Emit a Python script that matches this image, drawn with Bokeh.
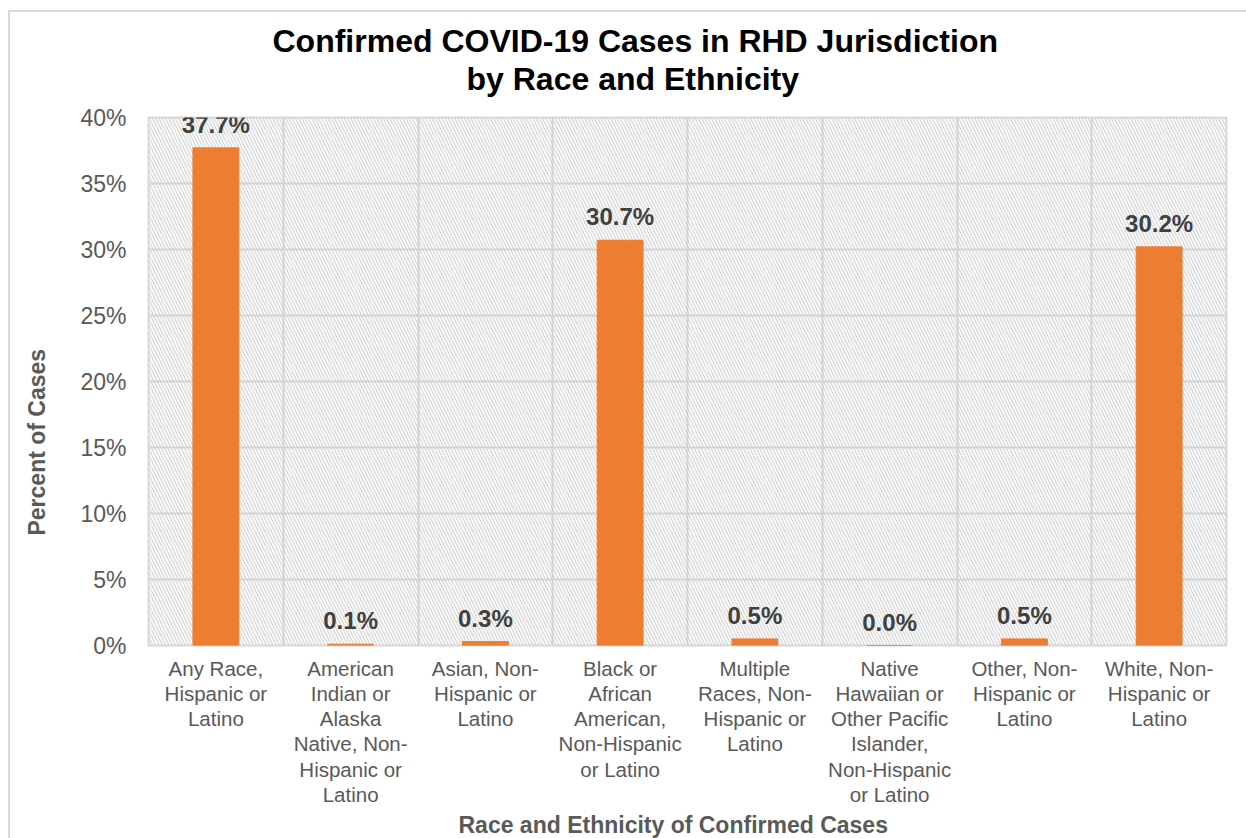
from bokeh.plotting import figure
from bokeh.models import FixedTicker, BoxAnnotation, ColumnDataSource, Range1d, Title
from bokeh.core.properties import value
from bokeh.embed import file_html
from bokeh.resources import INLINE

categories = [
    "Any Race,\nHispanic or\nLatino",
    "American\nIndian or\nAlaska\nNative, Non-\nHispanic or\nLatino",
    "Asian, Non-\nHispanic or\nLatino",
    "Black or\nAfrican\nAmerican,\nNon-Hispanic\nor Latino",
    "Multiple\nRaces, Non-\nHispanic or\nLatino",
    "Native\nHawaiian or\nOther Pacific\nIslander,\nNon-Hispanic\nor Latino",
    "Other, Non-\nHispanic or\nLatino",
    "White, Non-\nHispanic or\nLatino",
]
percent = [37.7, 0.1, 0.3, 30.7, 0.5, 0.0, 0.5, 30.2]
y_ticks = [0, 5, 10, 15, 20, 25, 30, 35, 40]
title_lines = ["Confirmed COVID-19 Cases in RHD Jurisdiction", "by Race and Ethnicity"]
x_title = "Race and Ethnicity of Confirmed Cases"
y_title = "Percent of Cases"

FONT = "Liberation Sans"
NBSP = "\u00a0"
xs = list(range(len(categories)))
labels = [f"{v:.1f}%" for v in percent]
src = ColumnDataSource(dict(x=xs, top=percent, label=labels))

p = figure(width=1246, height=838, output_backend="svg", toolbar_location=None,
           x_range=Range1d(-0.5, len(categories) - 0.5), y_range=Range1d(0, 40),
           min_border_left=148, min_border_right=20, min_border_top=117, min_border_bottom=193)
p.title = None
p.border_fill_alpha = 0
p.styles = {
    "background": "linear-gradient(#d9d9d9,#d9d9d9) 8px 10px / 2px 100% no-repeat, "
                  "linear-gradient(#d9d9d9,#d9d9d9) 8px 10px / 100% 2px no-repeat"
}

# chart title: spacer nearest the plot, then line 2, then line 1
p.add_layout(Title(text=NBSP, text_font=FONT, text_font_size="17px", standoff=0), "above")
p.add_layout(Title(text=title_lines[1], text_font=FONT, text_font_size="32px", text_font_style="bold",
                   text_color="black", align="left", offset=318, standoff=0), "above")
p.add_layout(Title(text=title_lines[0], text_font=FONT, text_font_size="32px", text_font_style="bold",
                   text_color="black", align="left", offset=124, standoff=0,
                   text_line_height=0.9), "above")

p.background_fill_color = "white"
p.add_layout(BoxAnnotation(fill_alpha=0, line_alpha=0, hatch_pattern="\\", hatch_color="#c8c8c8",
                           hatch_scale=6.5, hatch_weight=1, level="underlay"))

p.vbar(x="x", top="top", width=0.34, bottom=0, source=src, color="#ED7D31")
p.text(x="x", y="top", text="label", source=src, text_align="center", text_baseline="bottom",
       y_offset=-10, text_font=value(FONT), text_font_size="24px", text_font_style="bold",
       text_color="#404040")

p.outline_line_color = "#d9d9d9"
p.outline_line_width = 2

p.xgrid.ticker = FixedTicker(ticks=[i - 0.5 for i in range(len(categories) + 1)])
p.xgrid.grid_line_color = "#d9d9d9"
p.xgrid.grid_line_width = 2
p.ygrid.grid_line_color = "#d9d9d9"
p.ygrid.grid_line_width = 2

p.yaxis.ticker = FixedTicker(ticks=y_ticks)
p.yaxis.major_label_overrides = {t: f"{t}%" for t in y_ticks}
p.xaxis.ticker = FixedTicker(ticks=xs)
p.xaxis.major_label_overrides = {i: c for i, c in enumerate(categories)}

for ax in (p.xaxis[0], p.yaxis[0]):
    ax.axis_line_color = None
    ax.major_tick_line_color = None
    ax.minor_tick_line_color = None
    ax.major_label_text_font = FONT
    ax.major_label_text_color = "#595959"

p.yaxis.major_label_text_font_size = "23px"
p.yaxis.major_label_standoff = 16
p.xaxis.major_label_text_font_size = "20.5px"
p.xaxis.major_label_text_line_height = 1.1
p.xaxis.major_label_standoff = 5

# y axis title, padded with non-breaking spaces so it sits lower, as in the original
p.yaxis.axis_label = y_title + NBSP * 19
p.yaxis.axis_label_text_font = FONT
p.yaxis.axis_label_text_font_style = "bold"
p.yaxis.axis_label_text_color = "#595959"
p.yaxis.axis_label_text_font_size = "23px"
p.yaxis.axis_label_standoff = 27

p.add_layout(Title(text=x_title, text_font=FONT, text_font_size="23px", text_font_style="bold",
                   text_color="#595959", align="left", offset=310, standoff=0), "below")

open("out.html", "w").write(file_html(p, INLINE))
